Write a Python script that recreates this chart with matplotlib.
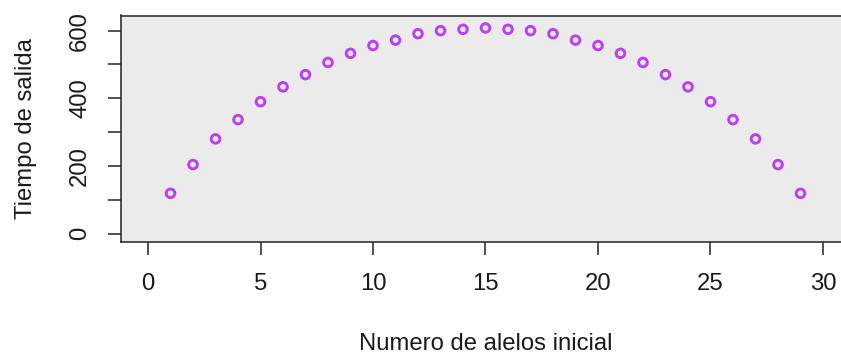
import matplotlib
matplotlib.use('Agg')
from matplotlib import pyplot as plt

# numero de alelos inicial vs tiempo de salida
alelos = list(range(1, 30))
tiempo = [119, 204, 280, 337, 390, 434, 470, 506, 533, 556, 572, 591, 600, 604, 608,
          604, 600, 591, 572, 556, 533, 506, 470, 434, 390, 337, 280, 204, 119]

plt.rcParams['font.family'] = ['Liberation Sans', 'DejaVu Sans']

fig = plt.figure(figsize=(8.41, 3.56), dpi=100)
ax = fig.add_axes([121/841, 1 - 242/356, (850 - 121)/841, (242 - 15.5)/356])
ax.set_facecolor('#ebebeb')

ax.scatter(alelos, tiempo, s=6.2**2, facecolors='none', edgecolors='#bb3ef8',
           linewidths=2.1, zorder=3)

ax.set_xlim(-1.2, 31.2)
ax.set_ylim(-24.8, 644.8)
ax.set_xticks([0, 5, 10, 15, 20, 25, 30])
ax.set_yticks([0, 100, 200, 300, 400, 500, 600])
ax.set_yticklabels(['0', '', '200', '', '400', '', '600'], rotation=90, va='center')

for s in ax.spines.values():
    s.set_color('#333333')
    s.set_linewidth(1.2)
ax.tick_params(length=9.5, width=1.2, color='#333333', labelsize=17.2,
               labelcolor='#1a1a1a')
ax.tick_params(axis='x', pad=13)
ax.tick_params(axis='y', pad=12)

ax.set_xlabel('Numero de alelos inicial', fontsize=17.2, labelpad=27, color='#1a1a1a')
ax.set_ylabel('Tiempo de salida', fontsize=17.2, labelpad=23, color='#1a1a1a')

plt.savefig('out.png', dpi=100)
